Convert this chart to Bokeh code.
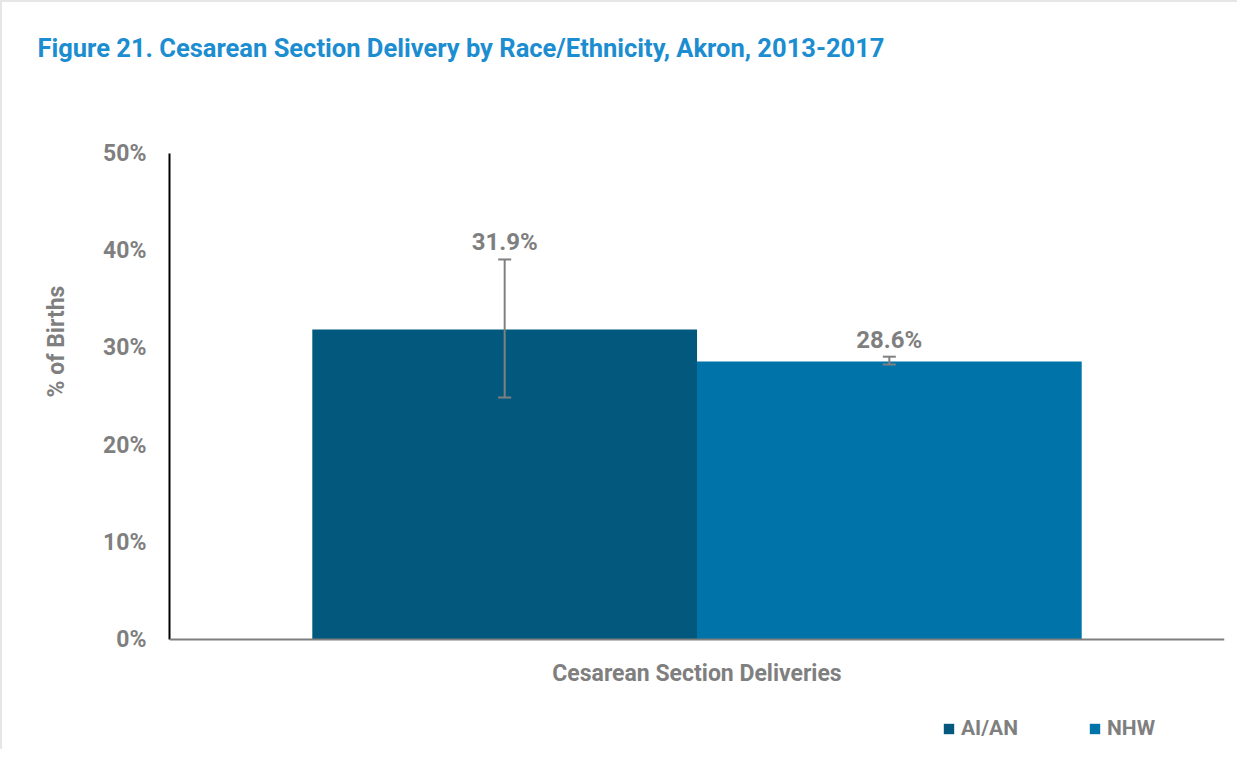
from bokeh.plotting import figure
from bokeh.models import (ColumnDataSource, FactorRange, Range1d, FixedTicker, Title,
                          PrintfTickFormatter, Whisker, TeeHead, Legend, LegendItem, Span)
from bokeh.transform import dodge
from bokeh.core.properties import value
from bokeh.embed import file_html
from bokeh.resources import INLINE

category = ["Cesarean Section Deliveries"]
groups = ["AI/AN", "NHW"]
values = [31.9, 28.6]
lower = [24.9, 28.3]
upper = [39.1, 29.1]
labels = ["31.9%", "28.6%"]
colors = ["#02587D", "#0073A9"]
yticks = [0, 10, 20, 30, 40, 50]

FONT = "Roboto"
GRAY = "#808080"
TXT = "#7F7F7F"

p = figure(width=1237, height=749, output_backend="svg", toolbar_location=None,
           x_range=FactorRange(*category, range_padding=0), y_range=Range1d(-11.1, 50),
           x_axis_location=None,
           min_border_left=167, min_border_right=15, min_border_top=151, min_border_bottom=4)

p.styles = {"border-top": "2px solid #e6e6e6", "border-left": "2px solid #e6e6e6"}

# main title (outer panel) and an empty spacer panel between it and the frame
p.title.text = "Figure 21. Cesarean Section Delivery by Race/Ethnicity, Akron, 2013-2017"
p.title.text_font = FONT
p.title.text_font_size = "25.5px"
p.title.text_font_style = "bold"
p.title.text_color = "#1B8DD0"
p.title.align = "left"
p.title.offset = -132
p.title.standoff = 0
spacer = Title(text=" ", text_font_size="1px", standoff=88)
p.add_layout(spacer, "above")

shift = 0.1823
bw = 0.3647
renderers = []
for i, g in enumerate(groups):
    off = -shift if i == 0 else shift
    src = ColumnDataSource(dict(x=category, top=[values[i]], lo=[lower[i]], hi=[upper[i]],
                                lab=[labels[i]]))
    r = p.vbar(x=dodge("x", off, range=p.x_range), top="top", bottom=0, width=bw, source=src,
               fill_color=colors[i], line_color=None)
    renderers.append(r)
    w = Whisker(base=dodge("x", off, range=p.x_range), upper="hi", lower="lo", source=src,
                line_color=GRAY, line_width=2, level="overlay",
                upper_head=TeeHead(size=13, line_color=GRAY, line_width=2),
                lower_head=TeeHead(size=13, line_color=GRAY, line_width=2))
    p.add_layout(w)
    p.text(x=dodge("x", off, range=p.x_range), y="hi", text="lab", source=src,
           text_align="center", text_baseline="bottom", y_offset=-3,
           text_font=value(FONT), text_font_style="bold", text_font_size="24px",
           text_color=TXT)

# category axis: baseline at 0 and category label below it
p.add_layout(Span(location=0, dimension="width", line_color=TXT, line_width=2))
p.text(x=category, y=[0], text=category, text_align="center", text_baseline="middle",
       y_offset=34, text_font=value(FONT), text_font_style="bold", text_font_size="23px",
       text_color=TXT)

p.grid.visible = False
p.outline_line_color = None

ax = p.yaxis
ax.ticker = FixedTicker(ticks=yticks)
ax.formatter = PrintfTickFormatter(format="%d%%")
ax.bounds = (0, 50)
ax.major_tick_line_color = None
ax.minor_tick_line_color = None
ax.major_label_text_font = FONT
ax.major_label_text_font_style = "bold"
ax.major_label_text_font_size = "23px"
ax.major_label_text_color = TXT
ax.axis_line_color = "#000000"
ax.axis_line_width = 2
ax.major_label_standoff = 17

ylab = Title(text="% of Births", text_font=FONT, text_font_size="23px", text_font_style="bold",
             text_color=TXT, align="left", offset=350, standoff=62)
p.add_layout(ylab, "left")

legend = Legend(items=[LegendItem(label=g, renderers=[r]) for g, r in zip(groups, renderers)],
                orientation="horizontal", location=(773, 7),
                label_text_font=FONT, label_text_font_style="bold", label_text_font_size="21px",
                label_text_color=TXT, glyph_width=13, glyph_height=13,
                spacing=70, label_standoff=6, border_line_color=None,
                margin=0, padding=0, background_fill_alpha=0)
p.add_layout(legend)

open("out.html", "w").write(file_html(p, INLINE))
